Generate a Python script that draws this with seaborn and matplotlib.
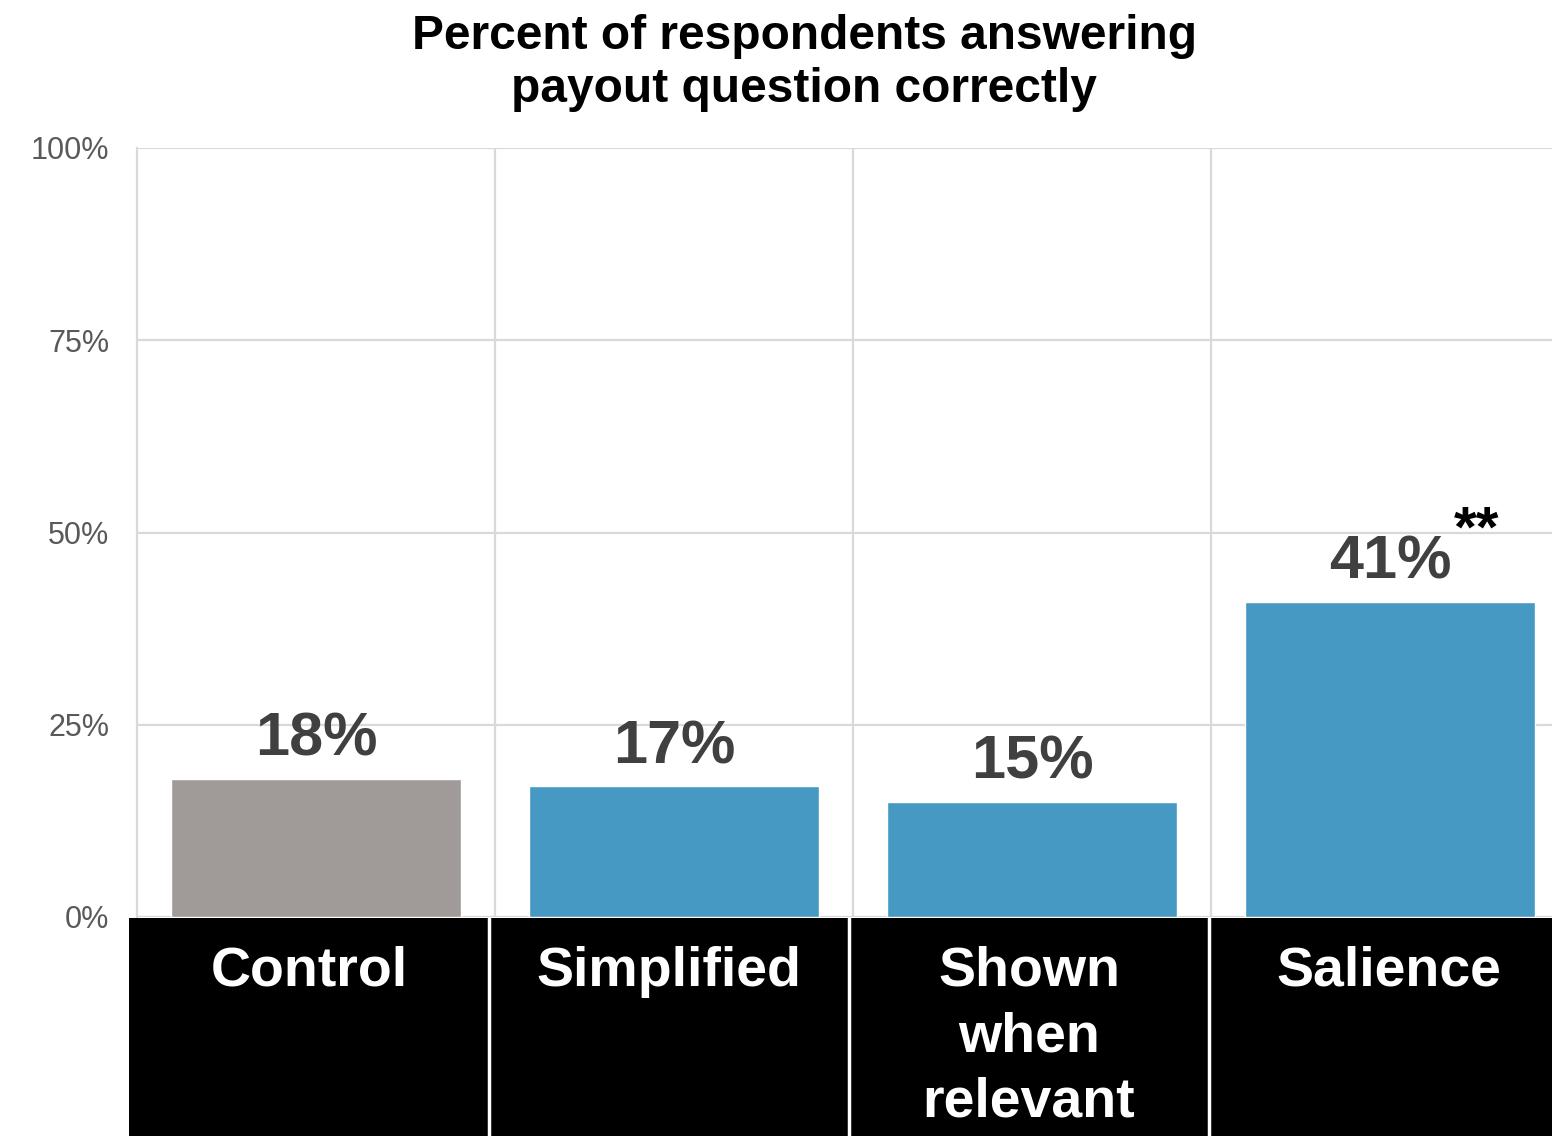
import matplotlib
matplotlib.use("Agg")
import matplotlib.pyplot as plt
import seaborn as sns

# Survey results
categories = ["Control", "Simplified", "Shown\nwhen\nrelevant", "Salience"]
values = [18, 17, 15, 41]
value_labels = ["18%", "17%", "15%", "41%"]
significance = ["", "", "", "**"]
bar_colors = ["#A09B98", "#4599C3", "#4599C3", "#4599C3"]
y_ticks = [0, 25, 50, 75, 100]
y_tick_labels = ["0%", "25%", "50%", "75%", "100%"]
title = "Percent of respondents answering\npayout question correctly"

sns.set_style("white")
plt.rcParams["font.family"] = ["Liberation Sans", "DejaVu Sans"]

W, H = 1552, 1136
fig = plt.figure(figsize=(W / 100, H / 100), dpi=100)

# main plotting area (pixel geometry converted to figure fractions)
ax = fig.add_axes([137 / W, (H - 917) / H, (W - 137) / W, (917 - 148) / H])
sns.barplot(x=list(range(len(values))), y=values, hue=list(range(len(values))),
            palette=bar_colors, width=0.81, legend=False, ax=ax, saturation=1)

ax.set_xlim(-0.5, -0.5 + (W - 137) / 358)
ax.set_ylim(0, 100)
ax.set_yticks(y_ticks)
ax.set_yticklabels(y_tick_labels, fontsize=22, color="#595959")
ax.tick_params(axis="y", length=0, pad=20)
ax.set_xticks([])
ax.set_xticks([0.5, 1.5, 2.5], minor=True)
ax.tick_params(axis="x", which="both", length=0)
ax.set_xlabel("")
ax.set_ylabel("")

grid_color = "#d9d9d9"
ax.yaxis.grid(True, color=grid_color, linewidth=1.6)
ax.xaxis.grid(True, which="minor", color=grid_color, linewidth=1.6)
ax.set_axisbelow(True)
for side in ["top", "right", "bottom"]:
    ax.spines[side].set_visible(False)
ax.spines["left"].set_color(grid_color)
ax.spines["left"].set_linewidth(1.6)

# value labels above bars
for i, (v, lab, sig) in enumerate(zip(values, value_labels, significance)):
    ax.annotate(lab, xy=(i, v), xytext=(0, 16.5), textcoords="offset points",
                ha="center", va="baseline", fontsize=44, fontweight="bold",
                color="#404040")
    if sig:
        ax.annotate(sig, xy=(i, v), xytext=(46, 40), textcoords="offset points",
                    ha="left", va="baseline", fontsize=42, fontweight="bold",
                    color="black")

# category label band
lab_ax = fig.add_axes([129 / W, 0, (W - 129) / W, (1136 - 918) / H])
lab_ax.set_facecolor("black")
lab_ax.set_xlim(-0.5, -0.5 + (W - 129) / 360)
lab_ax.set_ylim(0, 1)
for b in [0.5, 1.5, 2.5]:
    lab_ax.axvline(b, color="white", linewidth=2.5)
for i, cat in enumerate(categories):
    lab_ax.text(i, 1 - 28 / 218, cat, ha="center", va="top", fontsize=40,
                fontweight="bold", color="white", linespacing=1.33)
lab_ax.set_xticks([])
lab_ax.set_yticks([])
for s in lab_ax.spines.values():
    s.set_visible(False)

fig.text(804 / W, 1 - 14 / H, title, ha="center", va="top", fontsize=34.5,
         fontweight="bold", color="black", linespacing=1.22)

fig.savefig("out.png", dpi=100)
